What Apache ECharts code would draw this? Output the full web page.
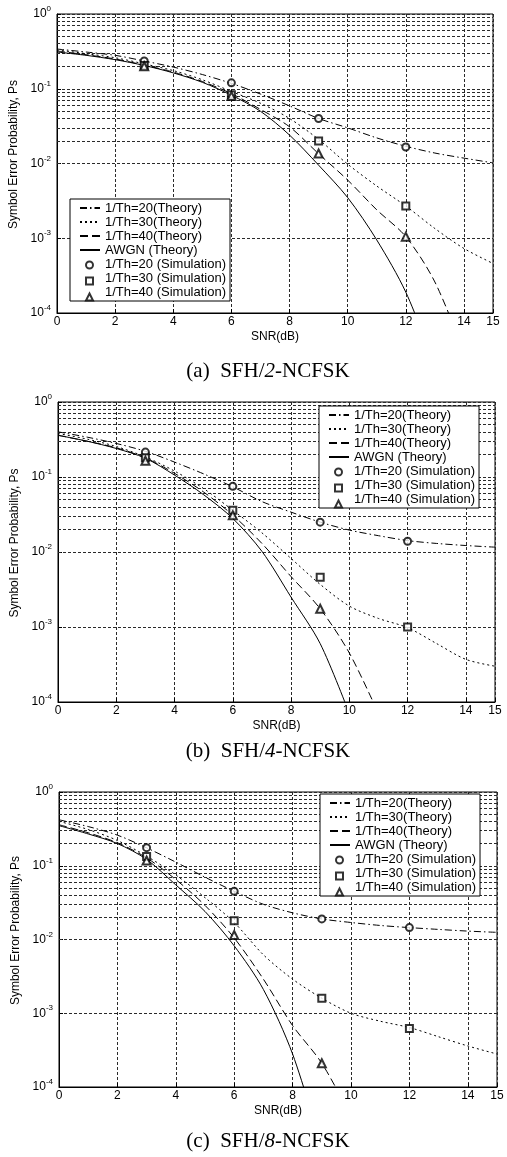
<!DOCTYPE html>
<html>
<head>
<meta charset="utf-8">
<script src="https://cdn.jsdelivr.net/npm/echarts@6/dist/echarts.min.js"></script>
<style>html,body{margin:0;padding:0;background:#fff;}#chart{width:507px;height:1157px;}</style>
</head>
<body>
<div id="chart"></div>
<script>
// ---------- data ----------
const snr = [0, 1, 2, 3, 4, 5, 6, 7, 8, 9, 10, 11, 12, 13, 14, 15];
const simSnr = [3, 6, 9, 12];
const xTickStep = 2;
const yDecades = [-4, -3, -2, -1, 0];
const minorMantissa = [2, 3, 4, 5, 6, 7, 8, 9];

// (a) SFH/2-NCFSK
const a_th20 = [0.34, 0.31, 0.28, 0.235, 0.195, 0.155, 0.118, 0.085, 0.059, 0.04, 0.03, 0.022, 0.017, 0.0138, 0.0118, 0.0102];
const a_th30 = [0.33, 0.295, 0.26, 0.215, 0.175, 0.132, 0.092, 0.064, 0.04, 0.021, 0.0098, 0.005, 0.0027, 0.00135, 0.00073, 0.00046];
const a_th40 = [0.32, 0.285, 0.25, 0.207, 0.167, 0.125, 0.086, 0.053, 0.031, 0.0135, 0.006, 0.0024, 0.00105, 0.00026, 0.00003, '-'];
const a_awgn = [0.31, 0.28, 0.245, 0.205, 0.163, 0.122, 0.082, 0.05, 0.024, 0.0095, 0.0035, 0.00095, 0.00019, 0.00002, '-', '-'];
const a_sim20 = [0.235, 0.12, 0.04, 0.0166];
const a_sim30 = [0.205, 0.083, 0.02, 0.0027];
const a_sim40 = [0.2, 0.08, 0.0136, 0.00105];

// (b) SFH/4-NCFSK
const b_th20 = [0.4, 0.34, 0.28, 0.22, 0.158, 0.11, 0.074, 0.047, 0.034, 0.025, 0.0196, 0.0165, 0.0142, 0.013, 0.0122, 0.0116];
const b_th30 = [0.38, 0.32, 0.255, 0.185, 0.12, 0.07, 0.036, 0.018, 0.0082, 0.0037, 0.0019, 0.0013, 0.00098, 0.0006, 0.00037, 0.0003];
const b_th40 = [0.36, 0.3, 0.245, 0.18, 0.112, 0.063, 0.031, 0.013, 0.0047, 0.00175, 0.00045, 0.00007, '-', '-', '-', '-'];
const b_awgn = [0.36, 0.3, 0.24, 0.178, 0.106, 0.058, 0.028, 0.0102, 0.0025, 0.0006, 0.00007, '-', '-', '-', '-', '-'];
const b_sim20 = [0.215, 0.075, 0.025, 0.0139];
const b_sim30 = [0.18, 0.036, 0.0046, 0.001];
const b_sim40 = [0.165, 0.031, 0.00175, '-'];

// (c) SFH/8-NCFSK
const c_th20 = [0.42, 0.34, 0.26, 0.175, 0.112, 0.07, 0.045, 0.03, 0.023, 0.019, 0.017, 0.0155, 0.0145, 0.0137, 0.013, 0.0125];
const c_th30 = [0.4, 0.31, 0.22, 0.135, 0.075, 0.037, 0.017, 0.0062, 0.0029, 0.0016, 0.001, 0.00078, 0.00064, 0.00048, 0.00036, 0.00028];
const c_th40 = [0.36, 0.28, 0.205, 0.128, 0.065, 0.029, 0.0105, 0.0029, 0.00068, 0.00021, 0.00004, '-', '-', '-', '-', '-'];
const c_awgn = [0.35, 0.27, 0.2, 0.122, 0.055, 0.024, 0.0082, 0.0021, 0.00028, 0.000015, '-', '-', '-', '-', '-', '-'];
const c_sim20 = [0.176, 0.045, 0.019, 0.0145];
const c_sim30 = [0.134, 0.018, 0.0016, 0.00062];
const c_sim40 = [0.118, 0.0115, 0.00021, '-'];

const captions = ['(a)  SFH/{i|2}-NCFSK', '(b)  SFH/{i|4}-NCFSK', '(c)  SFH/{i|8}-NCFSK'];
const thNames = ['1/Th=20(Theory)', '1/Th=30(Theory)', '1/Th=40(Theory)', 'AWGN (Theory)'];
const simNames = ['1/Th=20 (Simulation)', '1/Th=30 (Simulation)', '1/Th=40 (Simulation)'];
const xName = 'SNR(dB)';
const yName = 'Symbol Error Probability, Ps';

const panels = [
  {th: [a_th20, a_th30, a_th40, a_awgn], sim: [a_sim20, a_sim30, a_sim40]},
  {th: [b_th20, b_th30, b_th40, b_awgn], sim: [b_sim20, b_sim30, b_sim40]},
  {th: [c_th20, c_th30, c_th40, c_awgn], sim: [c_sim20, c_sim30, c_sim40]}
];

// ---------- layout / style ----------
const SANS = 'Liberation Sans, Arial, sans-serif';
const SERIF = 'Liberation Serif, Times New Roman, serif';
const grids = [
  {left: 57, top: 14, width: 436, height: 299},
  {left: 58, top: 402, width: 437, height: 300},
  {left: 59, top: 792, width: 438, height: 295}
];
const legendPos = [{left: 70, top: 199}, {left: 319, top: 406}, {left: 320, top: 794}];
const captionPos = [{x: 268, y: 371}, {x: 268, y: 751}, {x: 268, y: 1141}];
const dashStyles = [[7, 3, 1.5, 3], [2, 3], [8, 4], 'solid'];
const symbols = ['emptyCircle', 'emptyRect', 'emptyTriangle'];
const symbolSizes = [7, 7, 8];
const gridLine = {color: '#2a2a2a', width: 1, type: [3, 2]};
const hidden = {color: 'rgba(0,0,0,0)', borderColor: 'rgba(0,0,0,0)', borderWidth: 0, opacity: 0};

const minorValues = [];
yDecades.slice(0, -1).forEach(d => minorMantissa.forEach(m => minorValues.push(m * Math.pow(10, d))));

function pairs(xs, ys) { return xs.map((x, i) => [x, ys[i]]); }

const legends = [];
legendPos.forEach(p => {
  // box + texts (line samples for theory, symbols hidden)
  legends.push({
    orient: 'vertical', left: p.left, top: p.top, selectedMode: false, z: 6,
    itemWidth: 20, itemHeight: 7, itemGap: 0, padding: [2, 4, 2, 9],
    backgroundColor: '#fff', borderColor: '#000', borderWidth: 1, borderRadius: 0,
    textStyle: {color: '#000', fontFamily: SANS, fontSize: 13, lineHeight: 14},
    data: thNames.map(n => ({name: n, itemStyle: hidden}))
      .concat(simNames.map(n => ({name: n, itemStyle: hidden})))
  });
  // simulation marker icons at natural aspect
  legends.push({
    orient: 'vertical', left: p.left + 15, top: p.top + 2 + 4 * 14 + 3.5, selectedMode: false, z: 7,
    itemWidth: 7, itemHeight: 7, itemGap: 7, padding: 0,
    textStyle: {fontSize: 7, lineHeight: 7, color: '#000'},
    formatter: () => '',
    data: simNames
  });
});

const option = {
  backgroundColor: '#fff',
  animation: false,
  grid: grids.map(g => Object.assign({show: true, borderColor: '#000', borderWidth: 1, backgroundColor: 'transparent', outerBoundsMode: 'none', containLabel: false}, g)),
  xAxis: grids.map((g, i) => ({
    gridIndex: i, type: 'value', min: snr[0], max: snr[snr.length - 1], interval: xTickStep,
    axisLine: {show: true, lineStyle: {color: '#000', width: 1}},
    axisTick: {show: true, inside: true, length: 4, lineStyle: {color: '#000'}},
    axisLabel: {color: '#000', fontFamily: SANS, fontSize: 12, margin: 3, showMaxLabel: true, showMinLabel: true},
    splitLine: {show: true, lineStyle: gridLine},
    name: xName, nameLocation: 'middle', nameGap: 18,
    nameTextStyle: {color: '#000', fontFamily: SANS, fontSize: 12}
  })),
  yAxis: grids.map((g, i) => ({
    gridIndex: i, type: 'log', logBase: 10, min: Math.pow(10, yDecades[0]), max: Math.pow(10, yDecades[yDecades.length - 1]),
    splitNumber: 4,
    axisLine: {show: true, lineStyle: {color: '#000', width: 1}},
    axisTick: {show: true, inside: true, length: 4, lineStyle: {color: '#000'}},
    axisLabel: {
      color: '#000', margin: 6,
      formatter: v => '{b|10}{s|' + Math.round(Math.log10(v)) + '}',
      rich: {
        b: {fontFamily: SANS, fontSize: 12, lineHeight: 18, color: '#000'},
        s: {fontFamily: SANS, fontSize: 8, lineHeight: 8, verticalAlign: 'top', color: '#000'}
      }
    },
    splitLine: {show: true, lineStyle: gridLine},
    name: yName, nameLocation: 'middle', nameGap: 36, nameRotate: 90,
    nameTextStyle: {color: '#000', fontFamily: SANS, fontSize: 12, padding: [0, 0, 0, 18]}
  })),
  legend: legends,
  graphic: captions.map((t, i) => ({
    type: 'text', x: captionPos[i].x, y: captionPos[i].y, silent: true,
    style: {
      text: t, fill: '#000', font: '21px ' + SERIF, fontFamily: SERIF, fontSize: 21,
      align: 'center', verticalAlign: 'middle',
      rich: {i: {fontStyle: 'italic', fontFamily: SERIF, fontSize: 21, fill: '#000'}}
    }
  })),
  series: []
};

panels.forEach((p, i) => {
  // minor log grid lines
  option.series.push({
    type: 'line', name: 'minor' + i, xAxisIndex: i, yAxisIndex: i, data: [], z: 1, silent: true,
    markLine: {
      silent: true, symbol: 'none', animation: false, z: 1,
      label: {show: false},
      emphasis: {disabled: true},
      lineStyle: {color: gridLine.color, width: 1, type: gridLine.type},
      data: minorValues.map(v => ({yAxis: v}))
    }
  });
  p.th.forEach((ys, k) => {
    option.series.push({
      type: 'line', name: thNames[k], xAxisIndex: i, yAxisIndex: i,
      data: pairs(snr, ys), symbol: 'none', smooth: 0.3, z: 3,
      lineStyle: {color: '#000', width: 1, type: dashStyles[k]},
      itemStyle: {color: '#000'}
    });
  });
  p.sim.forEach((ys, k) => {
    option.series.push({
      type: 'scatter', name: simNames[k], xAxisIndex: i, yAxisIndex: i,
      data: pairs(simSnr, ys), symbol: symbols[k], symbolSize: symbolSizes[k], z: 4,
      itemStyle: {color: '#000', borderColor: '#000', borderWidth: 1}
    });
  });
});

const chart = echarts.init(document.getElementById('chart'), null, {renderer: 'canvas'});
chart.setOption(option);
</script>
</body>
</html>
